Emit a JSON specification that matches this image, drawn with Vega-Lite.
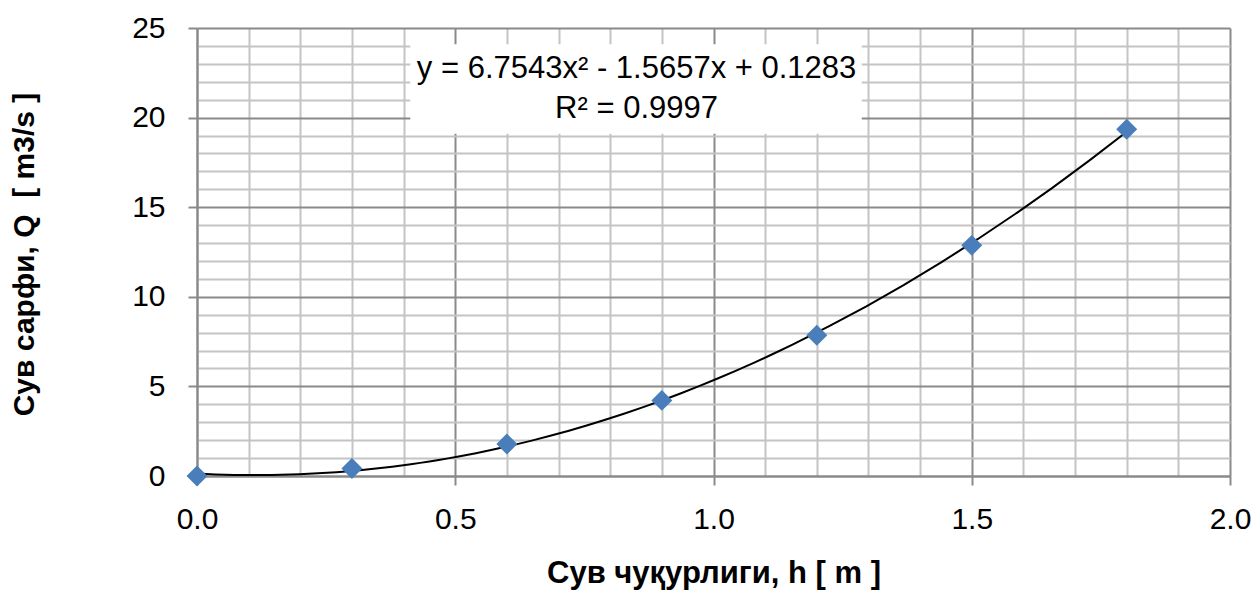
{
  "$schema": "https://vega.github.io/schema/vega-lite/v6.json",
  "width": 1033,
  "height": 448,
  "autosize": "none",
  "padding": {"left": 197, "top": 28, "right": 25, "bottom": 114},
  "background": "white",
  "config": {
    "view": {"stroke": null},
    "font": "Liberation Sans"
  },
  "data": {
    "values": [
      {"h": 0.0, "Q": 0.0},
      {"h": 0.3, "Q": 0.42},
      {"h": 0.6, "Q": 1.78},
      {"h": 0.9, "Q": 4.22},
      {"h": 1.2, "Q": 7.86},
      {"h": 1.5, "Q": 12.87},
      {"h": 1.8, "Q": 19.35}
    ]
  },
  "encoding": {
    "x": {
      "field": "h",
      "type": "quantitative",
      "scale": {"domain": [0, 2], "nice": false, "zero": false},
      "axis": {
        "title": "Сув чуқурлиги, h [ m ]",
        "titleFont": "Liberation Sans",
        "titleFontSize": 31,
        "titleFontWeight": "bold",
        "titleColor": "black",
        "titleY": 97,
        "titleBaseline": "middle",
        "values": [0, 0.1, 0.2, 0.3, 0.4, 0.5, 0.6, 0.7, 0.8, 0.9, 1, 1.1, 1.2, 1.3, 1.4, 1.5, 1.6, 1.7, 1.8, 1.9, 2],
        "format": ".1f",
        "labelExpr": "datum.value % 0.5 === 0 ? datum.label : ''",
        "labelFont": "Liberation Sans",
        "labelFontSize": 30,
        "labelColor": "black",
        "labelPadding": 19,
        "labelBaseline": "top",
        "labelFlush": false,
        "labelOverlap": false,
        "tickSize": 9,
        "tickWidth": 2,
        "tickColor": "#8a8a8a",
        "tickOpacity": {"condition": {"test": "datum.value % 0.5 === 0", "value": 1}, "value": 0},
        "grid": true,
        "gridWidth": 2,
        "gridColor": {"condition": {"test": "datum.value % 0.5 === 0", "value": "#8a8a8a"}, "value": "#c4c4c4"},
        "domainColor": "#8a8a8a",
        "domainWidth": 2
      }
    },
    "y": {
      "field": "Q",
      "type": "quantitative",
      "scale": {"domain": [0, 25], "nice": false},
      "axis": {
        "title": "Сув сарфи, Q \u00a0[ m3/s ]",
        "titleFont": "Liberation Sans",
        "titleFontSize": 30,
        "titleFontWeight": "bold",
        "titleColor": "black",
        "titleAngle": -90,
        "titleX": -173,
        "titleY": 226,
        "titleBaseline": "middle",
        "titleAlign": "center",
        "values": [0, 1, 2, 3, 4, 5, 6, 7, 8, 9, 10, 11, 12, 13, 14, 15, 16, 17, 18, 19, 20, 21, 22, 23, 24, 25],
        "labelExpr": "datum.value % 5 === 0 ? datum.label : ''",
        "labelFont": "Liberation Sans",
        "labelFontSize": 30,
        "labelColor": "black",
        "labelPadding": 23,
        "labelFlush": false,
        "labelOverlap": false,
        "tickSize": 9,
        "tickWidth": 2,
        "tickColor": "#8a8a8a",
        "tickOpacity": {"condition": {"test": "datum.value % 5 === 0", "value": 1}, "value": 0},
        "grid": true,
        "gridWidth": 2,
        "gridColor": {"condition": {"test": "datum.value % 5 === 0", "value": "#8a8a8a"}, "value": "#c4c4c4"},
        "domainColor": "#8a8a8a",
        "domainWidth": 2
      }
    }
  },
  "layer": [
    {
      "transform": [{"filter": "datum.h == 0"}],
      "mark": {"type": "rect", "fill": "white", "stroke": null},
      "encoding": {
        "x": {"datum": 0.413},
        "x2": {"datum": 1.287},
        "y": {"datum": 24.1},
        "y2": {"datum": 19.1}
      }
    },
    {
      "transform": [{"filter": "datum.h == 0"}],
      "mark": {
        "type": "text",
        "text": ["y = 6.7543x² - 1.5657x + 0.1283", "R² = 0.9997"],
        "font": "Liberation Sans",
        "fontSize": 31,
        "fontWeight": "normal",
        "lineHeight": 40,
        "align": "center",
        "baseline": "middle",
        "fill": "black",
        "stroke": null
      },
      "encoding": {
        "x": {"datum": 0.851},
        "y": {"datum": 22.7}
      }
    },
    {
      "transform": [
        {"regression": "Q", "on": "h", "method": "poly", "order": 2}
      ],
      "mark": {"type": "line", "color": "black", "strokeWidth": 2},
      "encoding": {}
    },
    {
      "mark": {"type": "point", "shape": "diamond", "filled": true, "size": 440, "color": "#4a7ebb", "opacity": 1},
      "encoding": {}
    }
  ]
}
